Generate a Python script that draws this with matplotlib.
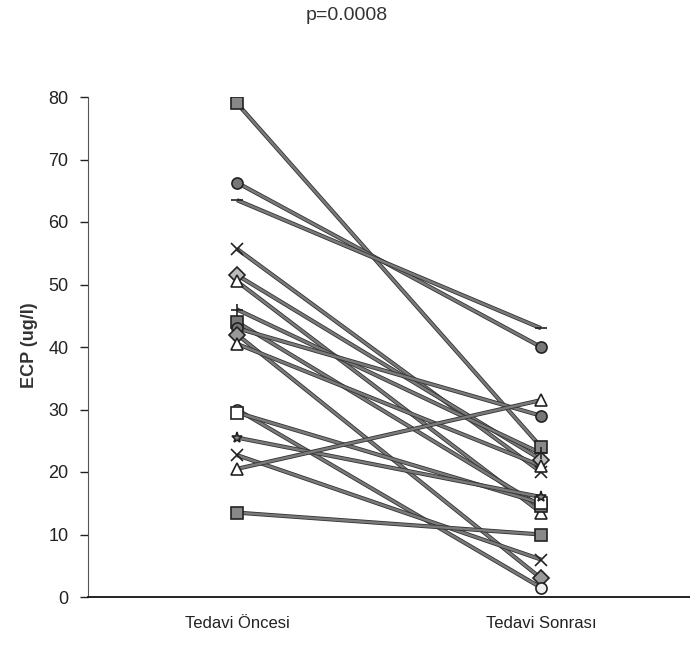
import matplotlib
matplotlib.use("Agg")
import matplotlib.pyplot as plt
import matplotlib.patheffects as pe

plt.rcParams['font.family'] = ['Liberation Sans', 'DejaVu Sans']

groups = ["Tedavi Öncesi", "Tedavi Sonrası"]
before = [79.0, 66.3, 63.5, 55.7, 51.5, 50.5, 46.0, 44.0, 43.0, 42.0, 40.5, 30.0, 29.5, 25.5, 22.7, 20.5, 13.5]
after  = [24.0, 40.0, 43.0, 20.0, 22.0, 13.5, 23.0, 14.5, 29.0, 3.0, 21.0, 1.5, 15.0, 16.0, 6.0, 31.5, 10.0]
markers = ['s', 'o', '_', 'x', 'D', '^', '+', 's', 'o', 'D', '^', 'o', 's', '*', 'x', '^', 's']
fills = ['#888888', '#777777', '#777777', '#777777', '#bbbbbb', '#ffffff', '#777777', '#777777',
         '#777777', '#999999', '#ffffff', '#eeeeee', '#ffffff', '#888888', '#777777', '#ffffff', '#888888']
yticks = [0, 10, 20, 30, 40, 50, 60, 70, 80]
title = "p=0.0008"
ylabel = "ECP (ug/l)"

fig = plt.figure(figsize=(6.9, 6.48), dpi=100)
ax = fig.add_axes([88/690, 1-597/648, 1-88/690, (597-97)/648])

xs = [0, 1]
for b, a, m, fc in zip(before, after, markers, fills):
    ax.plot(xs, [b, a], color='#7a7a7a', lw=1.8, solid_capstyle='butt', zorder=2,
            path_effects=[pe.Stroke(linewidth=3.0, foreground='#333333'), pe.Normal()])
    ax.plot(xs, [b, a], linestyle='none', marker=m, markersize=8,
            markerfacecolor=fc, markeredgecolor='#222222', markeredgewidth=1.2,
            color='#444444', zorder=3)

ax.set_xlim(-0.49, 1.49)
ax.set_ylim(0, 80)
ax.set_yticks(yticks)
ax.set_xticks(xs)
ax.set_xticklabels(groups, fontsize=12, color='#222222')
ax.tick_params(axis='x', length=0, pad=14)
ax.tick_params(axis='y', direction='out', length=6, width=1, labelsize=13, pad=8,
               colors='#222222')
for s in ['top', 'right']:
    ax.spines[s].set_visible(False)
ax.spines['left'].set_color('#555555')
ax.spines['bottom'].set_color('#111111')
ax.spines['bottom'].set_linewidth(1.3)

fig.text(347/690, 1-16/648, title, ha='center', va='center', fontsize=14, color='#333333')
fig.text(30/690, 1-345/648, ylabel, ha='center', va='center', rotation=90, fontsize=13,
         fontweight='bold', color='#333333')

fig.savefig("out.png", dpi=100)
